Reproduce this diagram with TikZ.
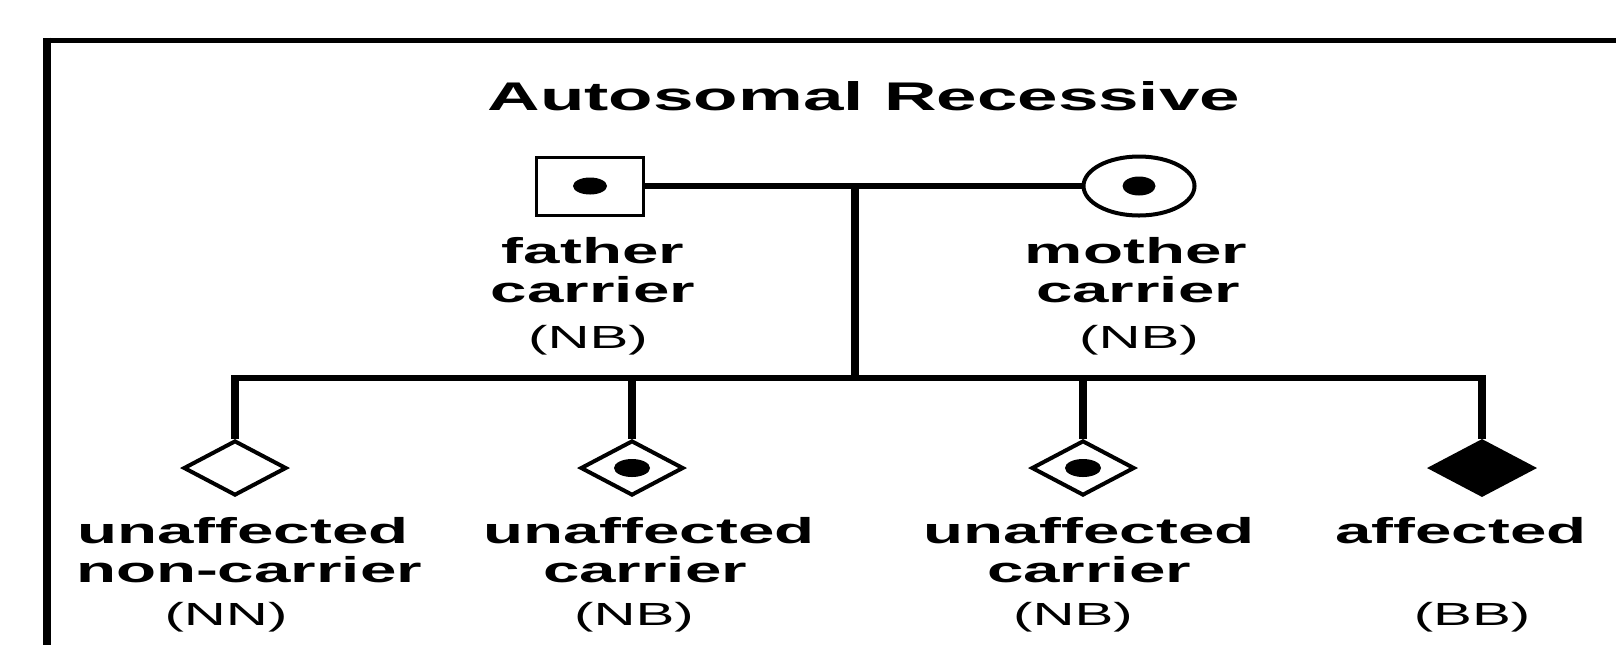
\documentclass[tikz,border=0pt]{standalone}
\usepackage{fontspec}
\setmainfont{Liberation Sans}
\newfontfamily\widefont[FakeStretch=1.82]{Liberation Sans}
\usetikzlibrary{shapes.geometric}
\begin{document}
\begin{tikzpicture}[
  x=0.5pt, y=-0.5pt,
  lab/.style={font=\widefont\bfseries\fontsize{18}{20}\selectfont, anchor=base, inner sep=0pt},
  geno/.style={font=\widefont\fontsize{16}{18}\selectfont, anchor=base, inner sep=0pt},
  ttl/.style={font=\widefont\bfseries\fontsize{20}{24}\selectfont, anchor=base, inner sep=0pt},
  malebox/.style={draw, line width=1.5pt, minimum width=53.5pt, minimum height=29pt, inner sep=0pt, fill=white},
  femaleell/.style={draw, ellipse, line width=2pt, minimum width=55.5pt, minimum height=29.5pt, inner sep=0pt, fill=white},
  kiddiamond/.style={draw, diamond, line width=2pt, minimum width=51.5pt, minimum height=27.5pt, inner sep=0pt, fill=white},
  hline/.style={line width=2.75pt, line cap=butt},
  vline/.style={line width=3.75pt, line cap=butt},
  frameh/.style={line width=2.5pt},
  framev/.style={line width=3.75pt},
  carrierdot/.style={fill=black}
]
\useasboundingbox (0,0) rectangle (1616,645);

% frame (cropped box)
\draw[frameh] (43.25,40) -- (1616,40);
\draw[framev] (47,37.5) -- (47,645);

% title
\node[ttl] (title) at (864,110) {Autosomal Recessive};

% parents
\node[malebox] (fa) at (590,186) {};
\node[femaleell] (mo) at (1139,186) {};
\fill[carrierdot] (fa.center) ellipse [x radius=8.5pt, y radius=4.25pt];
\fill[carrierdot] (mo.center) ellipse [x radius=8.25pt, y radius=4.75pt];

\node[lab] (fa1) at (593,263) {father};
\node[lab] (fa2) at (593,302) {carrier};
\node[geno] (fa3) at (588,348) {(NB)};
\node[lab] (mo1) at (1136,263) {mother};
\node[lab] (mo2) at (1138,302) {carrier};
\node[geno] (mo3) at (1139,348) {(NB)};

% children
\node[kiddiamond] (c1) at (235,468) {};
\node[kiddiamond] (c2) at (632,468) {};
\node[kiddiamond] (c3) at (1083,468) {};
\node[kiddiamond, fill=black] (c4) at (1482,468) {};
\fill[carrierdot] (c2.center) ellipse [x radius=9pt, y radius=4.5pt];
\fill[carrierdot] (c3.center) ellipse [x radius=9pt, y radius=4.5pt];

\node[lab] (c1a) at (243,543) {unaffected};
\node[lab] (c1b) at (249,582) {non-carrier};
\node[geno] (c1c) at (226,625) {(NN)};
\node[lab] (c2a) at (649,543) {unaffected};
\node[lab] (c2b) at (645,582) {carrier};
\node[geno] (c2c) at (634,625) {(NB)};
\node[lab] (c3a) at (1089,543) {unaffected};
\node[lab] (c3b) at (1089,582) {carrier};
\node[geno] (c3c) at (1073,625) {(NB)};
\node[lab] (c4a) at (1461,543) {affected};
\node[geno] (c4c) at (1472,625) {(BB)};

% connectors
\coordinate (m) at (855,186);
\coordinate (sib) at (855,378);
\coordinate (s1) at (235,378);
\coordinate (s2) at (632,378);
\coordinate (s3) at (1083,378);
\coordinate (s4) at (1482,378);

\draw[hline] (fa.east) -- (mo.west);
\draw[vline] (m) -- (sib);
\draw[hline] ([xshift=-1.875pt]s1) -- ([xshift=1.875pt]s4);
\draw[vline] ([yshift=1.375pt]s1) -- (c1.north);
\draw[vline] (s2) -- (c2.north);
\draw[vline] (s3) -- (c3.north);
\draw[vline] ([yshift=1.375pt]s4) -- (c4.north);
\end{tikzpicture}
\end{document}
